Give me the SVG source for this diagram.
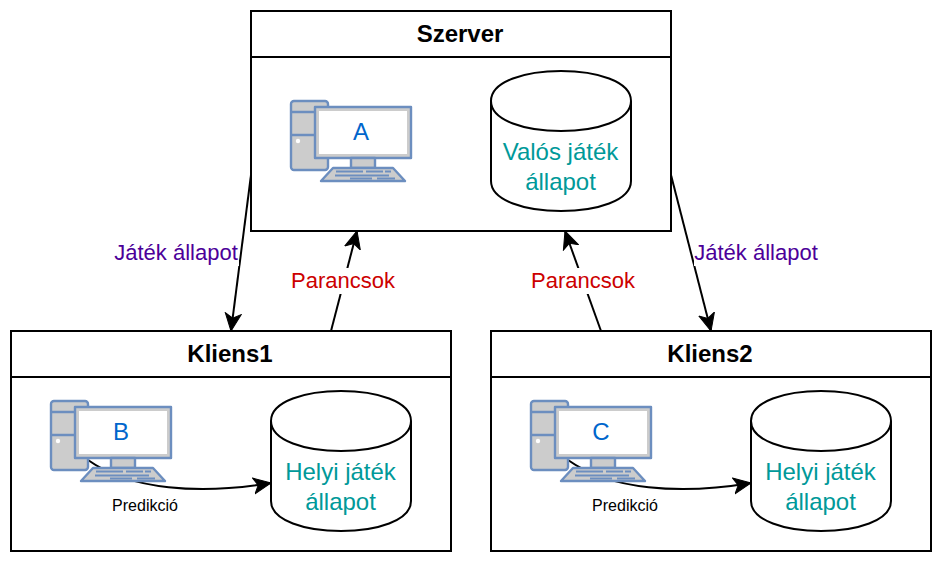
<svg xmlns="http://www.w3.org/2000/svg" width="942" height="562" viewBox="0 0 942 562">
<style>
text{font-family:"Liberation Sans",Arial,sans-serif;text-anchor:middle}
.box{fill:#fff;stroke:#000;stroke-width:2}
.title{font-size:24px;font-weight:bold;fill:#000}
.db{fill:#fff;stroke:#000;stroke-width:2}
.dbl{fill:none;stroke:#000;stroke-width:2}
.dbt{font-size:24px;fill:#009999}
.pc{font-size:24px;fill:#0066CC}
.conn{fill:none;stroke:#000;stroke-width:2;marker-end:url(#arrow)}
.state{font-size:22px;fill:#4C0099}
.cmd{font-size:22px;fill:#CC0000}
.pred{font-size:16px;fill:#000}
.lblbg{fill:#fff;stroke:none}
.ic{stroke:#6C8EBF;stroke-width:2.4;stroke-linejoin:round}
</style>
<defs>
<marker id="arrow" viewBox="0 0 19 18" refX="18" refY="9" markerWidth="19" markerHeight="18" markerUnits="userSpaceOnUse" orient="auto">
<path d="M0.500 1 L18 9 L0.500 17 L5 9 Z" fill="#000" stroke="#000" stroke-width="1"/>
</marker>
<g id="computer">
<rect class="ic" x="0" y="0" width="37" height="69" rx="3" fill="#CCCCCC"/>
<path class="ic" d="M0 11H25M0 34H25" fill="none"/>
<circle cx="7" cy="40" r="2.200" fill="#fff"/>
<rect class="ic" x="24" y="6" width="96" height="51" fill="#CCCCCC"/>
<rect x="28" y="10" width="88" height="43" fill="#fff"/>
<rect class="ic" x="60" y="57" width="24" height="10" fill="#CCCCCC"/>
<path class="ic" d="M42 67H102L114 80H30Z" fill="#CCCCCC"/>
<path d="M45 70.500H72M75 70.500H92M94 70.500H100M44 74.500H98M59 77.500H81M86 77.500H104" stroke="#6C8EBF" stroke-width="2" fill="none"/>
</g>
</defs>
<rect width="942" height="562" fill="#fff"/>

<g id="containers">
<g id="szerver-box"><rect class="box" x="251" y="11" width="420" height="220"/><path class="box" d="M251 57H671"/><text class="title" x="460" y="42">Szerver</text></g>
<g id="kliens1-box"><rect class="box" x="11" y="331" width="440" height="220"/><path class="box" d="M11 377H451"/><text class="title" x="230" y="362">Kliens1</text></g>
<g id="kliens2-box"><rect class="box" x="491" y="331" width="440" height="220"/><path class="box" d="M491 377H931"/><text class="title" x="710" y="362">Kliens2</text></g>
</g>

<g id="connectors">
<path class="conn" d="M251 175L231 331"/>
<path class="conn" d="M671 175L711 331"/>
<path class="conn" d="M331 331L357 231"/>
<path class="conn" d="M601 331L565 231"/>
<path class="conn" d="M88 460C130 490 200 495 271 483"/>
<path class="conn" d="M568 460C610 490 680 495 751 483"/>
<rect class="lblbg" x="114" y="240" width="125" height="26"/>
<text class="state" x="176" y="260">Játék állapot</text>
<rect class="lblbg" x="694" y="240" width="125" height="26"/>
<text class="state" x="756" y="260">Játék állapot</text>
<rect class="lblbg" x="291" y="268" width="104" height="26"/>
<text class="cmd" x="343" y="288">Parancsok</text>
<rect class="lblbg" x="531" y="268" width="104" height="26"/>
<text class="cmd" x="583" y="288">Parancsok</text>
<text class="pred" x="145" y="511">Predikció</text>
<text class="pred" x="625" y="511">Predikció</text>
</g>

<g id="node-a"><use href="#computer" x="291" y="101"/><text class="pc" x="361" y="140">A</text></g>
<g id="node-b"><use href="#computer" x="51" y="401"/><text class="pc" x="121" y="440">B</text></g>
<g id="node-c"><use href="#computer" x="531" y="401"/><text class="pc" x="601" y="440">C</text></g>

<g id="db-valos"><path class="db" d="M491 101C491 61 631 61 631 101V181C631 221 491 221 491 181Z"/><path class="dbl" d="M491 101C491 141 631 141 631 101"/><text class="dbt" x="560.500" y="160">Valós játék</text><text class="dbt" x="560.500" y="190">állapot</text></g>
<g id="db-helyi1"><path class="db" d="M271 421C271 381 411 381 411 421V501C411 541 271 541 271 501Z"/><path class="dbl" d="M271 421C271 461 411 461 411 421"/><text class="dbt" x="340.500" y="480">Helyi játék</text><text class="dbt" x="340.500" y="510">állapot</text></g>
<g id="db-helyi2"><path class="db" d="M751 421C751 381 891 381 891 421V501C891 541 751 541 751 501Z"/><path class="dbl" d="M751 421C751 461 891 461 891 421"/><text class="dbt" x="820.500" y="480">Helyi játék</text><text class="dbt" x="820.500" y="510">állapot</text></g>
</svg>
